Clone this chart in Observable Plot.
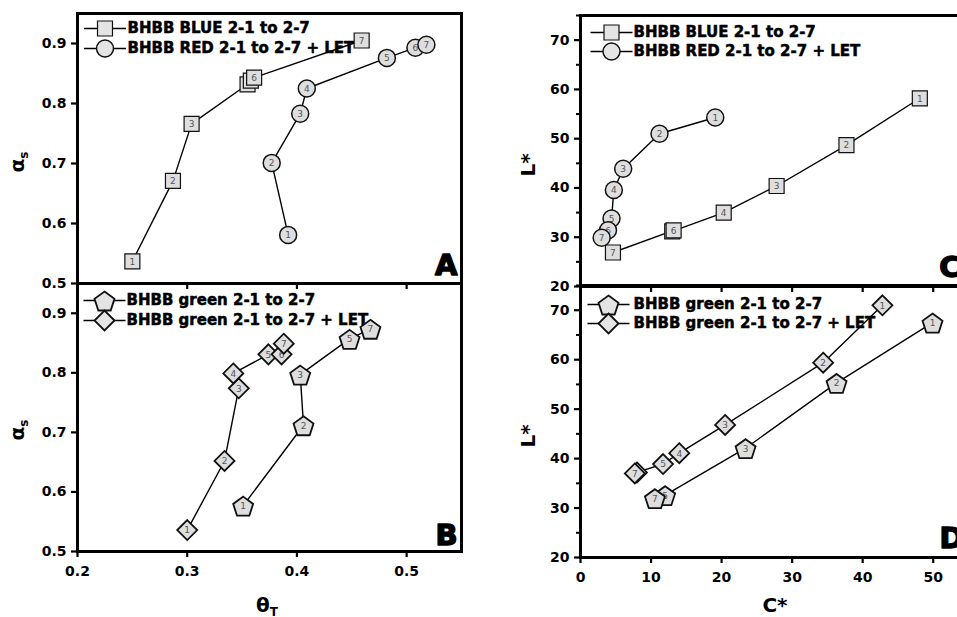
<!DOCTYPE html>
<html><head><meta charset="utf-8">
<script src="https://cdn.jsdelivr.net/npm/d3@7"></script>
<script src="https://cdn.jsdelivr.net/npm/@observablehq/plot@0.6"></script>
<style>
html,body{margin:0;padding:0;background:#fff;overflow:hidden;width:957px;height:617px;}
#wrap{position:relative;width:957px;height:617px;overflow:hidden;font-family:"DejaVu Sans",sans-serif;}
.panel{position:absolute;}
.panel svg{max-width:none !important;background:transparent !important;overflow:visible;display:block;}
.title{position:absolute;font-weight:bold;font-size:20px;white-space:nowrap;color:#000;line-height:1;transform:translate(-50%,-50%);}
.title.rot{transform:translate(-50%,-50%) rotate(-90deg);}
.title sub{font-size:12px;vertical-align:-4px;}
</style></head><body><div id="wrap"></div>
<script>
// ---------- data ----------
const legendA = ["BHBB BLUE 2-1 to 2-7", "BHBB RED 2-1 to 2-7 + LET"];
const legendB = ["BHBB green 2-1 to 2-7", "BHBB green 2-1 to 2-7 + LET"];

// Panel A / B : theta_T (x) vs alpha_s (y)
const labelsBlue = [1, 2, 3, 4, 5, 6, 7];
const thetaBlue = [0.250, 0.287, 0.304, 0.355, 0.358, 0.361, 0.459];
const alphaBlue = [0.537, 0.671, 0.766, 0.832, 0.838, 0.843, 0.905];
const labelsRed = [1, 2, 3, 4, 5, 6, 7];
const thetaRed = [0.392, 0.377, 0.403, 0.409, 0.482, 0.508, 0.518];
const alphaRed = [0.581, 0.701, 0.783, 0.825, 0.876, 0.893, 0.898];
const labelsGreen = [1, 2, 3, 5, 7];
const thetaGreen = [0.351, 0.406, 0.403, 0.448, 0.467];
const alphaGreen = [0.577, 0.712, 0.797, 0.857, 0.874];
const labelsGreenLet = [1, 2, 3, 4, 5, 6, 7];
const thetaGreenLet = [0.300, 0.334, 0.347, 0.342, 0.374, 0.386, 0.388];
const alphaGreenLet = [0.536, 0.652, 0.774, 0.799, 0.831, 0.831, 0.849];

// Panel C / D : C* (x) vs L* (y)
const cBlue = [48.1, 37.7, 27.8, 20.3, 13.0, 13.2, 4.6];
const lBlue = [58.2, 48.7, 40.4, 35.0, 31.2, 31.4, 26.9];
const cRed = [19.1, 11.2, 6.05, 4.73, 4.4, 3.9, 3.0];
const lRed = [54.3, 51.0, 43.9, 39.6, 33.8, 31.4, 29.9];
const cGreen = [49.9, 36.3, 23.4, 12.0, 10.55];
const lGreen = [67.5, 55.3, 42.1, 32.6, 32.0];
const cGreenLet = [42.8, 34.4, 20.5, 14.0, 11.7, 8.0, 7.7];
const lGreenLet = [71.0, 59.4, 46.8, 41.1, 38.9, 37.2, 37.0];

const thetaTicks = [0.2, 0.3, 0.4, 0.5];
const alphaTicks = [0.5, 0.6, 0.7, 0.8, 0.9];
const chromaTicks = [0, 10, 20, 30, 40, 50];
const lightTicks = [20, 30, 40, 50, 60, 70];
const lightMinor = [25, 35, 45, 55, 65, 75];

// ---------- symbols ----------
const sqSym = {draw(c){ const s = 7.5; c.moveTo(-s,-s); c.lineTo(s,-s); c.lineTo(s,s); c.lineTo(-s,s); c.closePath(); }};
const ciSym = {draw(c){ const r = 8.5; c.moveTo(r,0); c.arc(0,0,r,0,2*Math.PI); c.closePath(); }};
const diSym = {draw(c){ const r = 10; c.moveTo(0,-r); c.lineTo(r,0); c.lineTo(0,r); c.lineTo(-r,0); c.closePath(); }};
const peSym = {draw(c){ const R = 10.5; for (let k=0;k<5;k++){ const a = -Math.PI/2 + k*2*Math.PI/5; const px = R*Math.cos(a), py = R*Math.sin(a)+1.5; if(k===0) c.moveTo(px,py); else c.lineTo(px,py);} c.closePath(); }};
const lnSym = {draw(c){ c.moveTo(-21,0); c.lineTo(21,0); }};

const rows = (xs, ys, ls) => ls.map((l,i) => ({x: xs[i], y: ys[i], label: String(l)}));

function seriesMarks(data, sym, sw) {
  const m = [Plot.line(data, {x:"x", y:"y", stroke:"#000", strokeWidth:1.4})];
  data.forEach(row => {
    m.push(Plot.dot([row], {x:"x", y:"y", symbol: sym, r: 8, fill:"#dedede", stroke:"#111", strokeWidth: sw}));
    m.push(Plot.text([row], {x:"x", y:"y", text:"label", fontSize:9, fontWeight:"normal", fill:"#555", dy: 0.5}));
  });
  return m;
}

function legendMarks(names, syms, sws, lx, tx, dys) {
  const m = [];
  names.forEach((n,i) => {
    m.push(Plot.dot([n], {frameAnchor:"top-left", dx: lx, dy: dys[i], symbol: lnSym, r: 8, fill:"none", stroke:"#000", strokeWidth:1.6}));
    m.push(Plot.dot([n], {frameAnchor:"top-left", dx: lx, dy: dys[i], symbol: syms[i], r: 8, fill:"#e4e4e4", stroke:"#111", strokeWidth: sws[i]}));
    m.push(Plot.text([n], {frameAnchor:"top-left", dx: tx, dy: dys[i], text: d => d, textAnchor:"start", lineAnchor:"middle", fontSize:15, fontWeight:"bold", fill:"#000", stroke:"#000", strokeWidth:0.5}));
  });
  return m;
}

function makePanel(cfg) {
  const marks = [
    ...legendMarks(cfg.legend, cfg.legSyms, cfg.legSw, cfg.lx, cfg.tx, cfg.dys),
    Plot.frame({stroke:"#000", strokeWidth:3}),
    Plot.axisY(cfg.yTicks, {anchor:"left", label: null, tickSize:6, tickPadding:5, strokeWidth:2.2, tickFormat: cfg.yFormat, fontSize:14, fontWeight:"bold"}),
    Plot.axisX(cfg.xTicks, {anchor:"bottom", label: null, tickSize:6, tickPadding:9, strokeWidth:2.2, tickFormat: cfg.xLabels ? cfg.xFormat : () => "", fontSize:14, fontWeight:"bold"}),
  ];
  if (cfg.yMinor) marks.push(Plot.axisY(cfg.yMinor, {anchor:"left", label: null, tickSize:4, strokeWidth:2, tickFormat: () => ""}));
  cfg.series.forEach(s => marks.push(...seriesMarks(s.data, s.sym, s.sw)));
  marks.push(Plot.text([cfg.letter], {frameAnchor:"bottom-right", dx: cfg.ldx, dy: cfg.ldy, text: d => d, textAnchor:"end", lineAnchor:"middle", fontSize:29, fontWeight:"bold", fill:"#000", stroke:"#000", strokeWidth:1.5}));
  const chart = Plot.plot({
    width: cfg.width, height: cfg.height,
    marginLeft: cfg.mL, marginTop: cfg.mT, marginRight: cfg.mR, marginBottom: cfg.mB,
    x: {domain: cfg.xDomain, label: null},
    y: {domain: cfg.yDomain, label: null},
    style: {fontFamily: "DejaVu Sans, sans-serif", fontSize: "14px", fontWeight: "bold", background: "transparent", color: "#000", overflow: "visible"},
    marks
  });
  const div = document.createElement("div");
  div.className = "panel";
  div.style.left = cfg.left + "px"; div.style.top = cfg.top + "px";
  div.style.width = cfg.width + "px"; div.style.height = cfg.height + "px";
  div.appendChild(chart);
  document.getElementById("wrap").appendChild(div);
}

const fmt1 = d3.format(".1f");
const fmt0 = d3.format("d");

// Panel A
makePanel({left:0, top:0, width:470, height:295, mL:77, mT:13, mR:9, mB:12,
  xDomain:[0.2,0.55], yDomain:[0.5,0.95], xTicks: thetaTicks, yTicks: alphaTicks, yFormat: fmt1, xLabels:false,
  legend: legendA, legSyms:[sqSym, ciSym], legSw:[1.2,1.5], lx:27.5, tx:50, dys:[15,35],
  series:[{data: rows(thetaBlue, alphaBlue, labelsBlue), sym: sqSym, sw:1.2},
          {data: rows(thetaRed, alphaRed, labelsRed), sym: ciSym, sw:1.5}],
  letter:"A", ldx:-4, ldy:-18});

// Panel B
makePanel({left:0, top:270, width:470, height:341, mL:77, mT:13, mR:9, mB:60,
  xDomain:[0.2,0.55], yDomain:[0.5,0.95], xTicks: thetaTicks, yTicks: alphaTicks, yFormat: fmt1, xLabels:true, xFormat: fmt1,
  legend: legendB, legSyms:[peSym, diSym], legSw:[1.8,1.8], lx:27, tx:49, dys:[17,37],
  series:[{data: rows(thetaGreen, alphaGreen, labelsGreen), sym: peSym, sw:1.8},
          {data: rows(thetaGreenLet, alphaGreenLet, labelsGreenLet), sym: diSym, sw:1.8}],
  letter:"B", ldx:-4, ldy:-16});

// Panel C
makePanel({left:480, top:0, width:498, height:298, mL:100, mT:15, mR:10, mB:12,
  xDomain:[0,55], yDomain:[20,75], xTicks: chromaTicks, yTicks: lightTicks, yMinor: lightMinor, yFormat: fmt0, xLabels:false,
  legend: legendA, legSyms:[sqSym, ciSym], legSw:[1.2,1.5], lx:31, tx:53, dys:[17,36],
  series:[{data: rows(cBlue, lBlue, labelsBlue), sym: sqSym, sw:1.2},
          {data: rows(cRed, lRed, labelsRed), sym: ciSym, sw:1.5}],
  letter:"C", ldx:-8, ldy:-19});

// Panel D
makePanel({left:480, top:272, width:498, height:345, mL:100, mT:13, mR:10, mB:60,
  xDomain:[0,55], yDomain:[20,75], xTicks: chromaTicks, yTicks: lightTicks, yMinor: lightMinor, yFormat: fmt0, xLabels:true, xFormat: fmt0,
  legend: legendB, legSyms:[peSym, diSym], legSw:[1.8,1.8], lx:28, tx:53, dys:[19,38],
  series:[{data: rows(cGreen, lGreen, labelsGreen), sym: peSym, sw:1.8},
          {data: rows(cGreenLet, lGreenLet, labelsGreenLet), sym: diSym, sw:1.8}],
  letter:"D", ldx:-5, ldy:-19});

// Axis titles
function title(html, x, y, rot) {
  const d = document.createElement("div");
  d.className = "title" + (rot ? " rot" : "");
  d.innerHTML = html;
  d.style.left = x + "px"; d.style.top = y + "px";
  document.getElementById("wrap").appendChild(d);
}
title("α<sub>s</sub>", 18, 162, true);
title("α<sub>s</sub>", 18, 430, true);
title("θ<sub>T</sub>", 267, 606, false);
title("L*", 528, 165, true);
title("L*", 528, 436, true);
title("C*", 775, 605, false);
</script></body></html>
